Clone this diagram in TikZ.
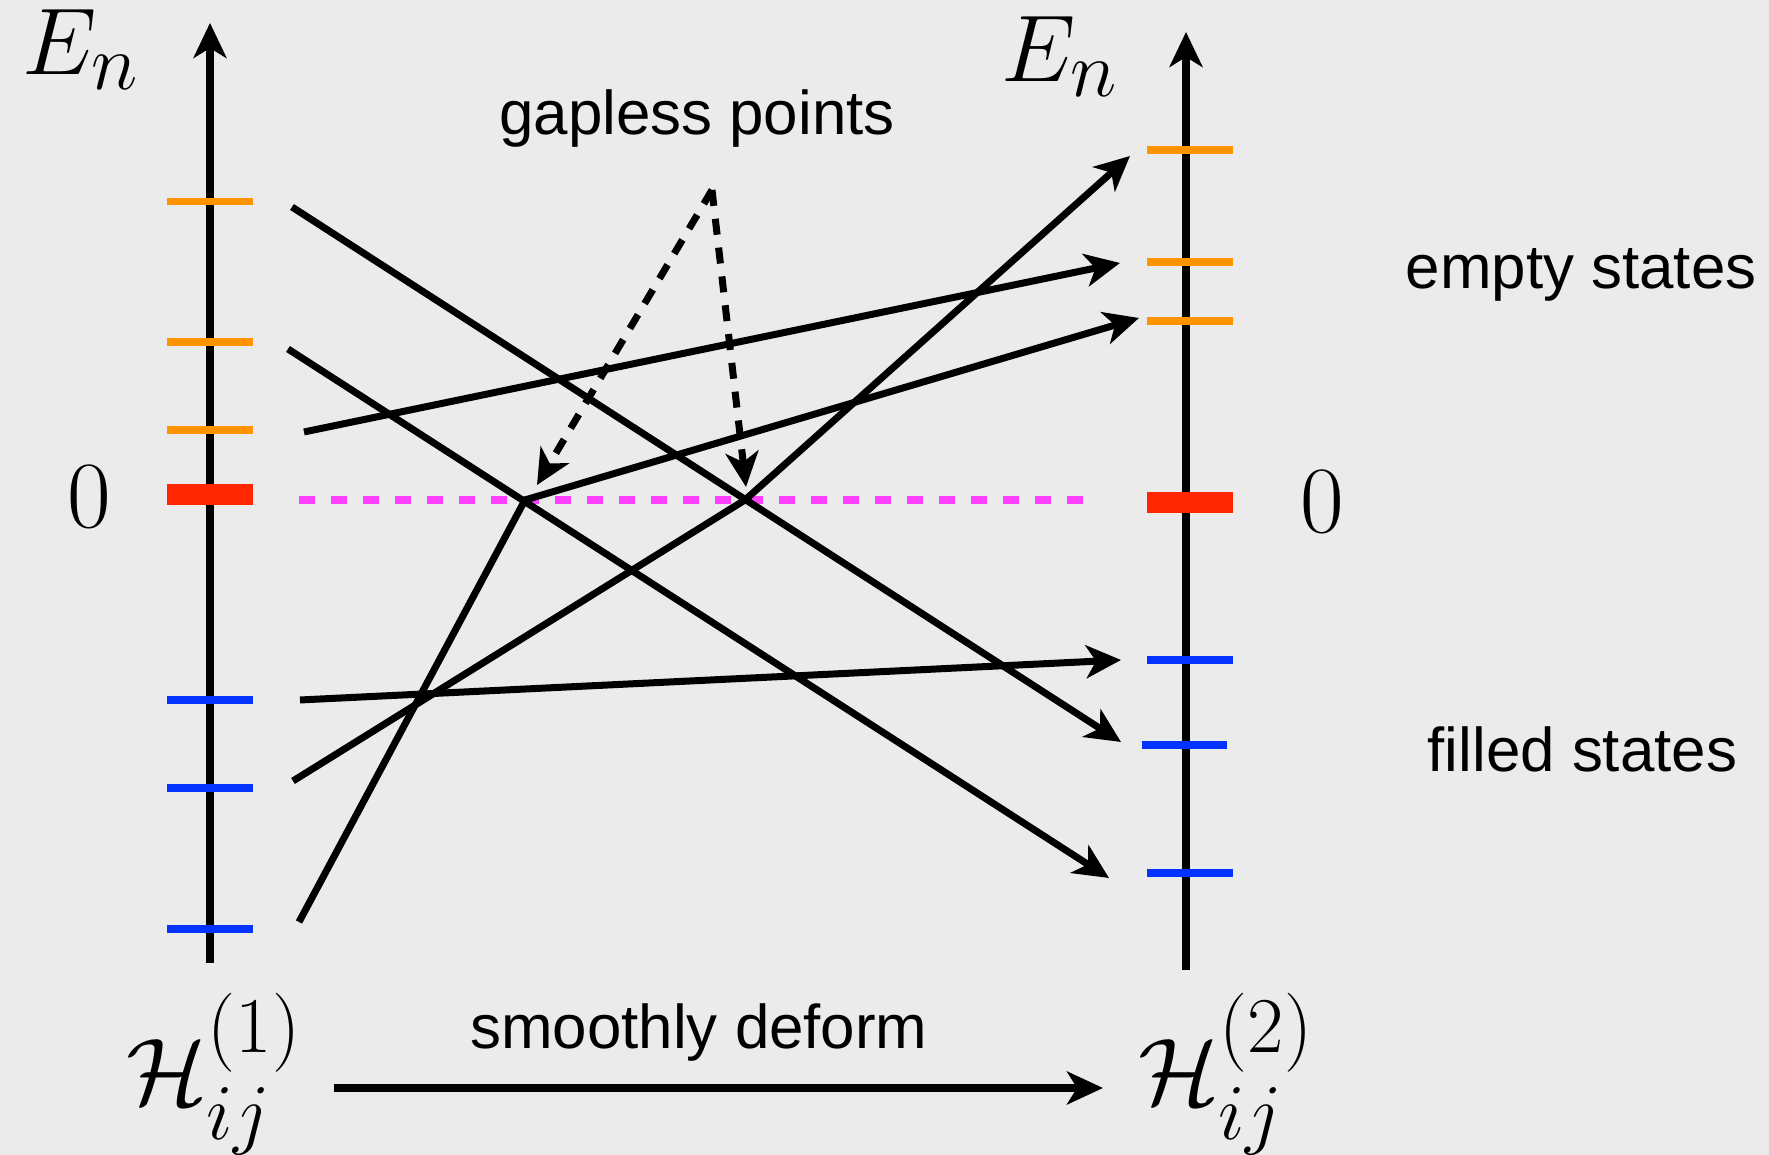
\documentclass[tikz,border=0pt]{standalone}
\usepackage{fontspec}
\usepackage{amsmath}
\usetikzlibrary{arrows.meta}
\newfontfamily\labelfont{Liberation Sans}
\definecolor{bgray}{HTML}{EBEBEB}
\definecolor{lvorange}{HTML}{FF9300}
\definecolor{lvred}{HTML}{FF2600}
\definecolor{lvblue}{HTML}{0433FF}
\definecolor{zeromag}{HTML}{FF40FF}
\tikzset{
  tip/.style={-{Stealth[length=3.5mm,width=3.3mm,inset=1mm]}},
  band/.style={line width=0.7mm,tip},
  txt/.style={font=\labelfont\fontsize{17.6}{20}\selectfont,inner sep=0pt,anchor=base},
  sym/.style={font=\Huge,scale=1.085,transform shape,inner sep=0pt,anchor=base west},
}

\begin{document}
\begin{tikzpicture}

\fill[bgray] (0,0) rectangle (17.69,11.55);
\useasboundingbox (0,0) rectangle (17.69,11.55);

% energy axes
\draw[line width=0.8mm,tip] (2.10,1.92) -- (2.10,11.32);
\draw[line width=0.8mm,tip] (11.86,1.85) -- (11.86,11.23);
\node[sym] (E1) at (0.22,10.80) {$E_n$};
\node[sym] (E2) at (10.01,10.73) {$E_n$};
\node[sym,anchor=base] (z1) at (0.89,6.27) {$0$};
\node[sym,anchor=base] (z2) at (13.22,6.22) {$0$};

% levels, left
\foreach \y in {9.535,8.13,7.25} \draw[lvorange,line width=0.75mm] (1.67,\y) -- (2.53,\y);
\draw[lvred,line width=2.1mm] (1.67,6.60) -- (2.53,6.60);
\foreach \y in {4.55,3.67,2.26} \draw[lvblue,line width=0.75mm] (1.67,\y) -- (2.53,\y);

% levels, right
\foreach \y in {10.05,8.93,8.34} \draw[lvorange,line width=0.75mm] (11.47,\y) -- (12.33,\y);
\draw[lvred,line width=2.1mm] (11.47,6.525) -- (12.33,6.525);
\foreach \y in {4.95,2.82} \draw[lvblue,line width=0.75mm] (11.47,\y) -- (12.33,\y);
\draw[lvblue,line width=0.75mm] (11.42,4.10) -- (12.27,4.10);

% zero energy
\draw[zeromag,line width=0.8mm,dash pattern=on 1.6mm off 1.6mm] (2.99,6.55) -- (10.83,6.55);
\coordinate (gp1) at (5.25,6.55);
\coordinate (gp2) at (7.45,6.55);

% flow of the levels
\draw[band] (2.92,9.48) -- (11.21,4.13);
\draw[band] (2.88,8.06) -- (11.09,2.77);
\draw[band] (3.04,7.23) -- (11.20,8.92);
\draw[band] (2.99,2.33) -- (gp1) -- (11.39,8.37);
\draw[band] (2.93,3.74) -- (gp2) -- (11.30,9.99);
\draw[band] (3.00,4.55) -- (11.21,4.95);

% labels
\node[txt] (gap) at (6.97,10.20) {gapless points};
\coordinate (gptail) at (7.12,9.65);
\draw[line width=0.7mm,dash pattern=on 1.6mm off 1.3mm,tip] (gptail) -- (5.37,6.70);
\draw[line width=0.7mm,dash pattern=on 1.6mm off 1.3mm,tip] (gptail) -- (7.46,6.68);
\node[txt,anchor=base west] (empty) at (14.05,8.66) {empty states};
\node[txt,anchor=base west] (filled) at (14.27,3.83) {filled states};

% deformation
\node[sym] (H1) at (1.26,0.50) {$\mathcal{H}_{ij}^{(1)}$};
\node[sym] (H2) at (11.38,0.50) {$\mathcal{H}_{ij}^{(2)}$};
\node[txt] (deform) at (6.99,1.06) {smoothly deform};
\draw[line width=0.8mm,-{Stealth[length=3.6mm,width=3.3mm,inset=1mm]}]
  ([xshift=3.1mm,yshift=1.7mm]H1.base east) -- ([xshift=-3.5mm,yshift=1.7mm]H2.base west);

\end{tikzpicture}
\end{document}
